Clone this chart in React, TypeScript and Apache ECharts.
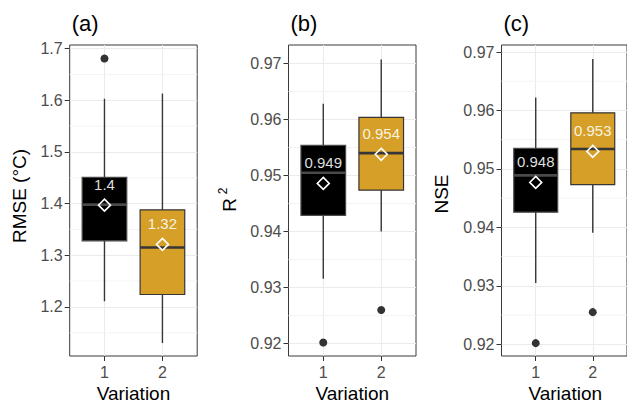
import React, { useEffect, useRef } from 'react';
import * as echarts from 'echarts';

const CATEGORIES = [1, 2];
const CATEGORY_LABELS = ['1', '2'];
const PANEL_TAGS = ['(a)', '(b)', '(c)'];
const Y_TITLES = ['RMSE (°C)', 'R', 'NSE'];
const R2_SUPERSCRIPT = '2';
const X_TITLE = 'Variation';

// per variation: [lower whisker, Q1, median, Q3, upper whisker]
const RMSE_BOX = [
  [1.211, 1.328, 1.398, 1.451, 1.603],
  [1.130, 1.224, 1.315, 1.388, 1.613],
];
const RMSE_OUTLIERS = [[1, 1.681]];
const RMSE_MEANS = [1.397, 1.321];
const RMSE_MEAN_LABELS = ['1.4', '1.32'];
const RMSE_TICKS = [1.2, 1.3, 1.4, 1.5, 1.6, 1.7];
const RMSE_TICK_LABELS = ['1.2', '1.3', '1.4', '1.5', '1.6', '1.7'];
const RMSE_MINOR = [1.15, 1.25, 1.35, 1.45, 1.55, 1.65];
const RMSE_RANGE = [1.105, 1.707];

const R2_BOX = [
  [0.9316, 0.9429, 0.9505, 0.9554, 0.9628],
  [0.9400, 0.9474, 0.9540, 0.9604, 0.9707],
];
const R2_OUTLIERS = [[1, 0.9202], [2, 0.9260]];
const R2_MEANS = [0.9486, 0.9538];
const R2_MEAN_LABELS = ['0.949', '0.954'];
const R2_TICKS = [0.92, 0.93, 0.94, 0.95, 0.96, 0.97];
const R2_TICK_LABELS = ['0.92', '0.93', '0.94', '0.95', '0.96', '0.97'];
const R2_MINOR = [0.925, 0.935, 0.945, 0.955, 0.965];
const R2_RANGE = [0.9178, 0.9733];

const NSE_BOX = [
  [0.9305, 0.9426, 0.9489, 0.9535, 0.9622],
  [0.9391, 0.9473, 0.9534, 0.9596, 0.9688],
];
const NSE_OUTLIERS = [[1, 0.9202], [2, 0.9255]];
const NSE_MEANS = [0.9477, 0.9530];
const NSE_MEAN_LABELS = ['0.948', '0.953'];
const NSE_TICKS = [0.92, 0.93, 0.94, 0.95, 0.96, 0.97];
const NSE_TICK_LABELS = ['0.92', '0.93', '0.94', '0.95', '0.96', '0.97'];
const NSE_MINOR = [0.925, 0.935, 0.945, 0.955, 0.965];
const NSE_RANGE = [0.918, 0.9712];

const X_RANGE = [0.4, 2.6];
const BOX_WIDTH = 0.77;

const FILLS = ['#000000', '#D69F27'];
const LINE = '#363636';
const FONT = '"Liberation Sans", Arial, Helvetica, sans-serif';

const PANELS = [
  { box: RMSE_BOX, out: RMSE_OUTLIERS, means: RMSE_MEANS, meanLabels: RMSE_MEAN_LABELS, ticks: RMSE_TICKS, tickLabels: RMSE_TICK_LABELS, minor: RMSE_MINOR, range: RMSE_RANGE },
  { box: R2_BOX, out: R2_OUTLIERS, means: R2_MEANS, meanLabels: R2_MEAN_LABELS, ticks: R2_TICKS, tickLabels: R2_TICK_LABELS, minor: R2_MINOR, range: R2_RANGE },
  { box: NSE_BOX, out: NSE_OUTLIERS, means: NSE_MEANS, meanLabels: NSE_MEAN_LABELS, ticks: NSE_TICKS, tickLabels: NSE_TICK_LABELS, minor: NSE_MINOR, range: NSE_RANGE },
];

// layout (pixels)
const GRID_LEFTS = [69.7, 288.5, 501.5];
const GRID_WIDTH = 127.5;
const GRID_TOP = 45;
const GRID_HEIGHT = 311;
const Y_TITLE_POS = [[19, 196], [229, 205], [441, 194]];

export default function App() {
  const ref = useRef<HTMLDivElement>(null);

  useEffect(() => {
    if (!ref.current) return;
    const chart = echarts.init(ref.current, undefined, { renderer: 'svg' });

    const grids = GRID_LEFTS.map((left) => ({
      left,
      top: GRID_TOP,
      width: GRID_WIDTH,
      height: GRID_HEIGHT,
      show: true,
      borderColor: '#3a3a3a',
      borderWidth: 1,
      backgroundColor: 'transparent',
    }));

    const xAxes = PANELS.map((_, i) => ({
      type: 'value',
      gridIndex: i,
      min: X_RANGE[0],
      max: X_RANGE[1],
      axisLine: { show: false },
      axisTick: { show: true, length: 5, lineStyle: { color: '#333', width: 1 }, customValues: CATEGORIES },
      axisLabel: {
        customValues: CATEGORIES,
        fontSize: 16,
        fontFamily: FONT,
        color: '#4D4D4D',
        margin: 8,
        formatter: (v: number) => CATEGORY_LABELS[CATEGORIES.indexOf(Math.round(v))] ?? '',
      },
      splitLine: { show: true, lineStyle: { color: '#EBEBEB', width: 1 } },
    }));

    const yAxes = PANELS.map((p, i) => ({
      type: 'value',
      gridIndex: i,
      min: p.range[0],
      max: p.range[1],
      axisLine: { show: false },
      axisTick: { show: true, length: 5, lineStyle: { color: '#333', width: 1 }, customValues: p.ticks },
      axisLabel: {
        customValues: p.ticks,
        fontSize: 16,
        fontFamily: FONT,
        color: '#4D4D4D',
        margin: 7,
        formatter: (v: number) => {
          const k = p.ticks.findIndex((t) => Math.abs(t - v) < 1e-9);
          return k >= 0 ? p.tickLabels[k] : '';
        },
      },
      splitLine: { show: true, lineStyle: { color: '#EBEBEB', width: 1 } },
    }));

    const series: any[] = [];
    PANELS.forEach((p, i) => {
      // minor grid lines
      series.push({
        type: 'custom',
        xAxisIndex: i,
        yAxisIndex: i,
        z: 1,
        silent: true,
        data: p.minor.map((v) => [1.5, v]),
        encode: { x: 0, y: 1 },
        renderItem: (params: any, api: any) => {
          const cs = params.coordSys;
          const y = api.coord([1.5, api.value(1)])[1];
          return {
            type: 'line',
            shape: { x1: cs.x, y1: y, x2: cs.x + cs.width, y2: y },
            style: { stroke: '#F4F4F4', lineWidth: 1 },
          };
        },
      });
      // boxes
      series.push({
        type: 'custom',
        xAxisIndex: i,
        yAxisIndex: i,
        z: 2,
        silent: true,
        data: p.box.map((b, k) => [CATEGORIES[k], ...b]),
        encode: { x: 0, y: [1, 2, 3, 4, 5] },
        renderItem: (params: any, api: any) => {
          const x = api.value(0);
          const lo = api.coord([x, api.value(1)]);
          const q1 = api.coord([x, api.value(2)]);
          const md = api.coord([x, api.value(3)]);
          const q3 = api.coord([x, api.value(4)]);
          const hi = api.coord([x, api.value(5)]);
          const hw = api.size([BOX_WIDTH, 0])[0] / 2;
          const fill = FILLS[params.dataIndex];
          return {
            type: 'group',
            children: [
              { type: 'line', shape: { x1: lo[0], y1: lo[1], x2: hi[0], y2: hi[1] }, style: { stroke: LINE, lineWidth: 1.4 } },
              { type: 'rect', shape: { x: q3[0] - hw, y: q3[1], width: hw * 2, height: q1[1] - q3[1] }, style: { fill, stroke: params.dataIndex === 0 ? '#4a4a4a' : LINE, lineWidth: 1.2 } },
              { type: 'line', shape: { x1: md[0] - hw, y1: md[1], x2: md[0] + hw, y2: md[1] }, style: { stroke: params.dataIndex === 0 ? '#4a4a4a' : LINE, lineWidth: 2.6 } },
            ],
          };
        },
      });
      // outliers
      series.push({
        type: 'scatter',
        xAxisIndex: i,
        yAxisIndex: i,
        z: 3,
        silent: true,
        symbol: 'circle',
        symbolSize: 8,
        itemStyle: { color: '#333333', opacity: 1 },
        data: p.out,
      });
      // means
      series.push({
        type: 'scatter',
        xAxisIndex: i,
        yAxisIndex: i,
        z: 4,
        silent: true,
        symbol: 'diamond',
        symbolSize: 12,
        itemStyle: { color: 'rgba(0,0,0,0)', borderColor: '#FFFFFF', borderWidth: 1.6, opacity: 1 },
        label: {
          show: true,
          position: 'inside',
          offset: [0, -21],
          fontSize: 15,
          fontFamily: FONT,
          color: 'rgba(255,255,255,0.88)',
          formatter: (d: any) => p.meanLabels[d.dataIndex],
        },
        data: p.means.map((m, k) => [CATEGORIES[k], m]),
      });
    });

    const graphics: any[] = [];
    PANEL_TAGS.forEach((t, i) => {
      graphics.push({
        type: 'text',
        x: GRID_LEFTS[i] + 2,
        y: 23,
        style: { text: t, fontSize: 22, fontFamily: FONT, fill: '#000', align: 'left', verticalAlign: 'middle' },
      });
      graphics.push({
        type: 'text',
        x: GRID_LEFTS[i] + GRID_WIDTH / 2,
        y: 393,
        style: { text: X_TITLE, fontSize: 19, fontFamily: FONT, fill: '#000', align: 'center', verticalAlign: 'middle' },
      });
      graphics.push({
        type: 'text',
        x: Y_TITLE_POS[i][0],
        y: Y_TITLE_POS[i][1],
        rotation: Math.PI / 2,
        style: { text: Y_TITLES[i], fontSize: 19, fontFamily: FONT, fill: '#000', align: 'center', verticalAlign: 'middle' },
      });
    });
    graphics.push({
      type: 'text',
      x: 223,
      y: 191,
      rotation: Math.PI / 2,
      style: { text: R2_SUPERSCRIPT, fontSize: 12, fontFamily: FONT, fill: '#000', align: 'center', verticalAlign: 'middle' },
    });

    chart.setOption({
      animation: false,
      backgroundColor: '#FFFFFF',
      grid: grids,
      xAxis: xAxes,
      yAxis: yAxes,
      series,
      graphic: graphics,
    });

    return () => chart.dispose();
  }, []);

  return <div ref={ref} style={{ position: 'fixed', left: 0, top: 0, width: 627, height: 406 }} />;
}
